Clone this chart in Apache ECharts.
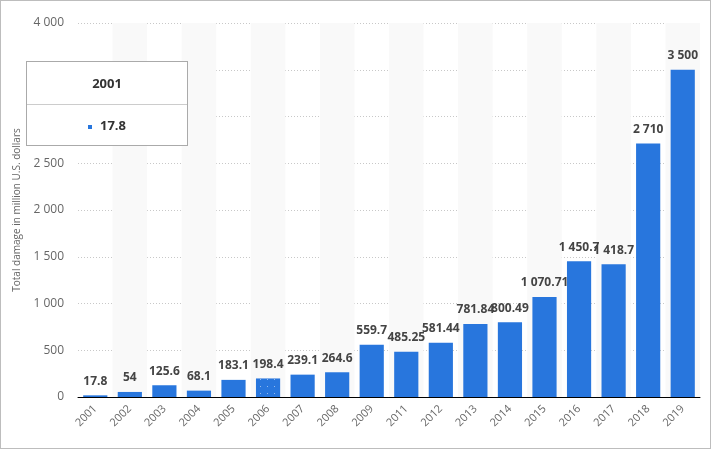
<!DOCTYPE html>
<html>
<head>
<meta charset="utf-8">
<script src="https://cdn.jsdelivr.net/npm/echarts@6/dist/echarts.min.js"></script>
<style>
  html, body { margin: 0; padding: 0; background: #fff; }
  #chart { width: 709px; height: 447px; border: 1px solid #bdbdbd; }
</style>
</head>
<body>
<div id="chart"></div>
<script>
const years = ['2001', '2002', '2003', '2004', '2005', '2006', '2007', '2008', '2009',
  '2011', '2012', '2013', '2014', '2015', '2016', '2017', '2018', '2019'];
const damage = [17.8, 54, 125.6, 68.1, 183.1, 198.4, 239.1, 264.6, 559.7,
  485.25, 581.44, 781.84, 800.49, 1070.71, 1450.7, 1418.7, 2710, 3500];
const yTicks = [0, 500, 1000, 1500, 2000, 2500, 3000, 3500, 4000];
const patternedYear = '2006';
const hoverIndex = 0;

const barColor = '#2876dd';

// 1070.71 -> "1 070.71"
function fmt(value) {
  const parts = String(value).split('.');
  parts[0] = parts[0].replace(/\B(?=(\d{3})+(?!\d))/g, ' ');
  return parts.join('.');
}

const chart = echarts.init(document.getElementById('chart'));

const option = {
  animation: false,
  grid: { left: 77, right: 10, top: 22, bottom: 51 },
  tooltip: {
    trigger: 'item',
    alwaysShowContent: true,
    transitionDuration: 0,
    position: [25, 60],
    padding: 0,
    borderColor: '#aaa',
    borderWidth: 1,
    borderRadius: 0,
    backgroundColor: '#fff',
    extraCssText: 'box-shadow:none;',
    formatter: function (p) {
      return `
        <div style="width:160px;font-family:'Open Sans',sans-serif;">
          <div style="height:42px;line-height:42px;text-align:center;font-size:13px;font-weight:bold;color:#333;border-bottom:1px solid #ccc;">${p.name}</div>
          <div style="height:40px;line-height:40px;text-align:center;font-size:13px;font-weight:bold;color:#333;">
            <span style="display:inline-block;width:4px;height:4px;background:${barColor};vertical-align:middle;margin-right:8px;"></span>${fmt(p.value)}
          </div>
        </div>`;
    }
  },
  xAxis: {
    type: 'category',
    data: years,
    axisLine: { lineStyle: { color: '#000', width: 1 } },
    axisTick: { show: false },
    axisLabel: {
      rotate: 45,
      color: '#666',
      fontSize: 11,
      fontFamily: 'Open Sans',
      margin: 10
    },
    splitArea: {
      show: true,
      areaStyle: { color: ['rgba(255,255,255,0)', '#f9f9f9'] }
    }
  },
  yAxis: {
    type: 'value',
    min: yTicks[0],
    max: yTicks[yTicks.length - 1],
    interval: 500,
    name: 'Total damage in million U.S. dollars',
    nameLocation: 'middle',
    nameGap: 55,
    nameTextStyle: { color: '#666', fontSize: 10, fontFamily: 'Open Sans' },
    axisLine: { show: false },
    axisTick: { show: false },
    axisLabel: {
      color: '#666',
      fontSize: 12,
      fontFamily: 'Open Sans',
      margin: 14,
      formatter: fmt
    },
    splitLine: { lineStyle: { color: '#c8c8c8', type: [1, 2] } }
  },
  series: [{
    type: 'bar',
    barCategoryGap: '30%',
    data: damage.map((v, i) => {
      const item = { value: v };
      if (years[i] === patternedYear) {
        item.itemStyle = {
          decal: {
            symbol: 'rect',
            symbolSize: 1,
            dashArrayX: [1, 6],
            dashArrayY: [1, 6],
            rotation: 0,
            color: 'rgba(255,255,255,0.5)'
          }
        };
      }
      return item;
    }),
    itemStyle: { color: barColor },
    emphasis: { disabled: true },
    label: {
      show: true,
      position: 'top',
      distance: 8,
      color: '#444',
      fontSize: 12,
      fontWeight: 'bold',
      fontFamily: 'Open Sans',
      formatter: p => fmt(p.value)
    }
  }]
};

chart.setOption(option);
chart.dispatchAction({ type: 'showTip', seriesIndex: 0, dataIndex: hoverIndex });
</script>
</body>
</html>
